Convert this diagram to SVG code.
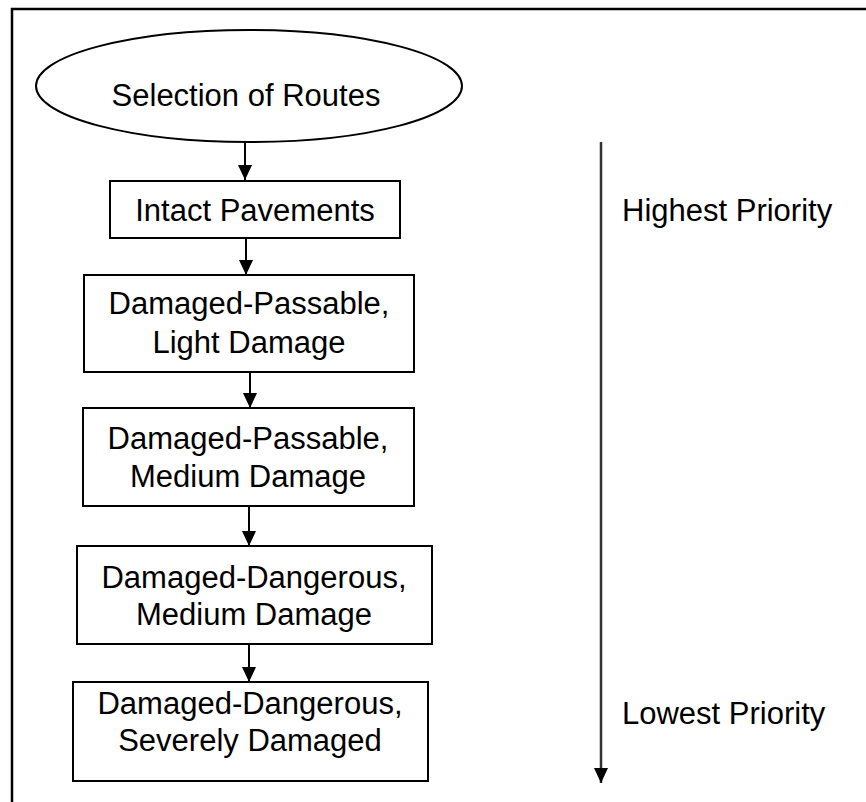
<svg xmlns="http://www.w3.org/2000/svg" width="866" height="802" viewBox="0 0 866 802">
<defs>
<marker id="ah" markerWidth="15" markerHeight="14" refX="15" refY="7" orient="auto" markerUnits="userSpaceOnUse" viewBox="0 0 15 14">
<path d="M0,0 L15,7 L0,14 Z" fill="#000"/>
</marker>
<style>
.n{fill:#fff;stroke:#000;stroke-width:2}
.t{font-family:"Liberation Sans",Arial,sans-serif;font-size:31px;fill:#000;text-anchor:middle}
.c{stroke:#000;stroke-width:2;fill:none}
.p{stroke:#333;stroke-width:2.5;fill:none}
</style>
</defs>
<rect x="0" y="0" width="866" height="802" fill="#fff"/>
<path d="M12,802 L12,9 L866,9" fill="none" stroke="#000" stroke-width="2.5"/>
<g id="connectors">
<line class="c" x1="245" y1="142" x2="245" y2="180" marker-end="url(#ah)"/>
<line class="c" x1="246" y1="238" x2="246" y2="275" marker-end="url(#ah)"/>
<line class="c" x1="250" y1="372" x2="250" y2="408" marker-end="url(#ah)"/>
<line class="c" x1="249" y1="506" x2="249" y2="546" marker-end="url(#ah)"/>
<line class="c" x1="249" y1="644" x2="249" y2="682" marker-end="url(#ah)"/>
<line class="p" x1="601" y1="142" x2="601" y2="783" marker-end="url(#ah)"/>
</g>
<g id="start">
<ellipse class="n" cx="249" cy="86" rx="213" ry="56"/>
<text class="t" x="246" y="106">Selection of Routes</text>
</g>
<g id="intact">
<rect class="n" x="110" y="181" width="290" height="57"/>
<text class="t" x="255" y="221">Intact Pavements</text>
</g>
<g id="passable-light">
<rect class="n" x="84" y="275" width="330" height="97"/>
<text class="t" x="249" y="314">Damaged-Passable,</text>
<text class="t" x="249" y="353">Light Damage</text>
</g>
<g id="passable-medium">
<rect class="n" x="83" y="408" width="331" height="98"/>
<text class="t" x="248" y="449">Damaged-Passable,</text>
<text class="t" x="248" y="487">Medium Damage</text>
</g>
<g id="dangerous-medium">
<rect class="n" x="77" y="546" width="355" height="98"/>
<text class="t" x="254" y="588">Damaged-Dangerous,</text>
<text class="t" x="254" y="625">Medium Damage</text>
</g>
<g id="dangerous-severe">
<rect class="n" x="73" y="682" width="355" height="99"/>
<text class="t" x="250" y="714">Damaged-Dangerous,</text>
<text class="t" x="250" y="751">Severely Damaged</text>
</g>
<g id="labels">
<text class="t" x="622" y="221" style="text-anchor:start">Highest Priority</text>
<text class="t" x="622" y="724" style="text-anchor:start">Lowest Priority</text>
</g>
</svg>
